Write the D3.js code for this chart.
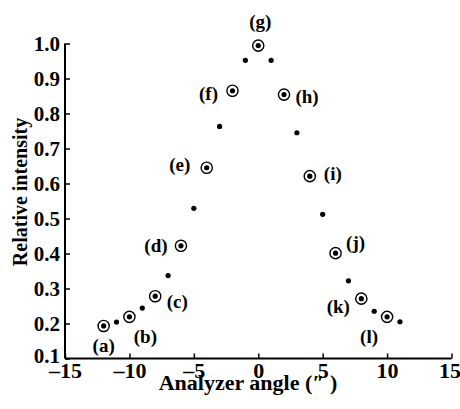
<!DOCTYPE html>
<html><head><meta charset="utf-8">
<script src="https://cdn.jsdelivr.net/npm/d3@7"></script>
<style>
html,body{margin:0;padding:0;background:#fff;}
text{font-family:"Liberation Serif","Times New Roman",serif;font-weight:bold;fill:#000;}
</style></head>
<body>
<svg id="chart" width="460" height="409"></svg>
<script>
// Circled (labelled) measurement points
const circledAngles = [-12, -10, -8, -6, -4, -2, 0, 2, 4, 6, 8, 10];
const circledValues = [0.193, 0.219, 0.278, 0.422, 0.645, 0.865, 0.994, 0.854, 0.621, 0.401, 0.271, 0.219];
const circledLabels = ["(a)","(b)","(c)","(d)","(e)","(f)","(g)","(h)","(i)","(j)","(k)","(l)"];
// Label offsets relative to point (layout, not data)
const labelDx = [0, 16, 22, -25, -27, -24, 2, 23, 23, 20, -23, -18];
const labelDy = [19, 20, 5, 0, -3, 3, -24, 2, -3, -11, 8, 20];
// Small dot measurement points
const dotAngles = [-11, -9, -7, -5, -3, -1, 1, 3, 5, 7, 9, 11];
const dotValues = [0.204, 0.244, 0.337, 0.529, 0.763, 0.952, 0.952, 0.745, 0.512, 0.322, 0.235, 0.205];
// Ticks
const xTicks = [-15, -10, -5, 0, 5, 10, 15];
const yTicks = [0.1, 0.2, 0.3, 0.4, 0.5, 0.6, 0.7, 0.8, 0.9, 1.0];

const svg = d3.select("#chart");
const x = d3.scaleLinear().domain([-15, 15]).range([65, 451.5]);
const y = d3.scaleLinear().domain([0.1, 1.0]).range([358.5, 43.5]);

// X axis
const xAxis = d3.axisBottom(x).tickValues(xTicks).tickSize(-5).tickPadding(4)
  .tickFormat(d => d < 0 ? "\u2013" + Math.abs(d) : String(d));
const gx = svg.append("g").attr("transform", `translate(0,${y(0.1)})`).call(xAxis);
gx.select(".domain").attr("stroke-width", 2).attr("d", `M${x(-15)},0H${x(15)}`);
gx.selectAll(".tick line").attr("stroke-width", 1.5);
gx.selectAll(".tick text").style("font-size", "22px").attr("dy", "0.71em");
gx.selectAll(".tick").filter(d => d === 15).select("text").attr("text-anchor", "end").attr("x", 9);

// Y axis
const yAxis = d3.axisLeft(y).tickValues(yTicks).tickSize(-5).tickPadding(5)
  .tickFormat(d3.format(".1f"));
const gy = svg.append("g").attr("transform", `translate(${x(-15)},0)`).call(yAxis);
gy.select(".domain").attr("stroke-width", 2).attr("d", `M0,${y(0.1)}V${y(1.0)}`);
gy.selectAll(".tick line").attr("stroke-width", 1.5);
gy.selectAll(".tick text").style("font-size", "21px");
gy.selectAll(".tick").filter(d => d === 0.1).select("text").attr("dy", "0.2em");

// Axis titles
svg.append("text").attr("x", 248).attr("y", 390).attr("text-anchor", "middle")
  .style("font-size", "22px").text("Analyzer angle (\u2033 )");
svg.append("text").attr("transform", "translate(27,192) rotate(-90)").attr("text-anchor", "middle")
  .style("font-size", "20px").text("Relative intensity");

// Small dots
svg.append("g").selectAll("circle").data(dotAngles).join("circle")
  .attr("cx", (d) => x(d)).attr("cy", (d, i) => y(dotValues[i])).attr("r", 2.6).attr("fill", "#000");

// Circled points
const cg = svg.append("g").selectAll("g").data(circledAngles).join("g")
  .attr("transform", (d, i) => `translate(${x(d)},${y(circledValues[i])})`);
cg.append("circle").attr("r", 5.6).attr("fill", "none").attr("stroke", "#000").attr("stroke-width", 1.4);
cg.append("circle").attr("r", 2.6).attr("fill", "#000");
cg.append("text").attr("x", (d, i) => labelDx[i]).attr("y", (d, i) => labelDy[i])
  .attr("text-anchor", "middle").attr("dy", "0.35em").style("font-size", "19px")
  .text((d, i) => circledLabels[i]);
</script>
</body></html>
